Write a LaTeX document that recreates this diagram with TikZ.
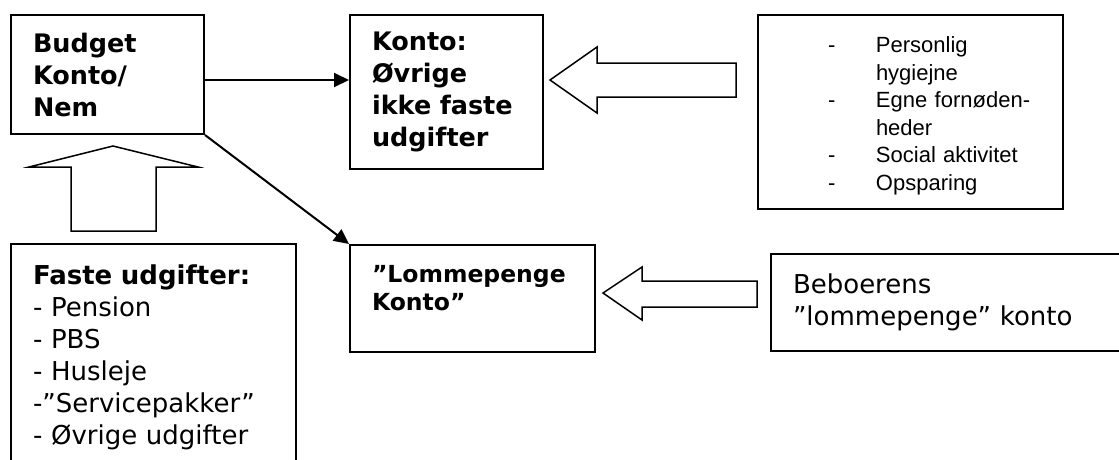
\documentclass[tikz,border=0pt]{standalone}
\usepackage{fontspec}
\setmainfont{DejaVu Sans}
\newfontfamily\arialfont{Liberation Sans}
\usetikzlibrary{arrows.meta}
\definecolor{budInk}{HTML}{000000}
\tikzset{
  bud box/.style={draw=budInk, line width=2pt, rectangle, inner ysep=0pt, inner xsep=22pt, align=left, anchor=north west},
  bud title/.style={font=\fontsize{25.5}{32}\selectfont\bfseries},
  bud body/.style={font=\fontsize{26}{32}\selectfont},
  bud list/.style={font=\arialfont\fontsize{22}{27.6}\selectfont},
  bud link/.style={draw=budInk, line width=2pt, -{Triangle[length=15pt,width=14pt]}},
  bud fat/.style={draw=budInk, line width=1.5pt, fill=white, line join=miter},
}

\begin{document}
\begin{tikzpicture}[x=1pt, y=-1pt]
  \useasboundingbox (0,0) rectangle (1119,459);
  \clip (0,0) rectangle (1119,459);

  % Accounts
  \node[bud box, bud title, text width=149pt, minimum height=119pt] (budget) at (10,14) {Budget\\Konto/\\Nem};
  \node[bud box, bud title, text width=149pt, minimum height=154pt] (konto) at (349,14) {Konto:\\Øvrige\\ikke faste\\udgifter};
  \node[bud box, font=\fontsize{23.5}{28.5}\selectfont\bfseries, text width=201pt, text depth=50pt, minimum height=107pt] (lomme) at (349,244) {”Lommepenge\\Konto”};

  % Fixed expenses, box runs past the bottom edge
  \node[bud box, bud body, text width=241pt, minimum height=226pt] (faste) at (10,243)
    {\textbf{Faste udgifter:}\\- Pension\\- PBS\\- Husleje\\-”Servicepakker”\\- Øvrige udgifter};

  % What the pocket money covers
  \node[bud box, bud list, inner xsep=0pt, text width=305pt, text height=96pt, minimum height=194pt] (uses) at (757,14)
    {\begin{tabular}{@{\hspace{70pt}}p{48pt}@{}l@{}}
      - & Personlig\\
        & hygiejne\\
      - & Egne fornøden-\\
        & heder\\
      - & Social aktivitet\\
      - & Opsparing
    \end{tabular}};

  % Resident's own account, box runs past the right edge
  \node[bud box, bud body, text width=356pt, minimum height=97pt] (resident) at (770,253) {Beboerens\\”lommepenge” konto};

  % Transfers
  \draw[bud link] ([yshift=-5.5pt]budget.east) -- ([yshift=-5.5pt]budget.east -| konto.west);
  \draw[bud link] (budget.south east) -- (lomme.north west);

  % Fat arrows feeding the accounts
  \draw[bud fat] (113,146) -- (198,167) -- (156,167) -- (156,231) -- (71,231) -- (71,167) -- (29,167) -- cycle;
  \draw[bud fat] (550,80) -- (597,47) -- (597,63) -- (736,63) -- (736,97) -- (597,97) -- (597,113) -- cycle;
  \draw[bud fat] (603,293) -- (642,267) -- (642,281) -- (757,281) -- (757,307) -- (642,307) -- (642,320) -- cycle;
\end{tikzpicture}
\end{document}
